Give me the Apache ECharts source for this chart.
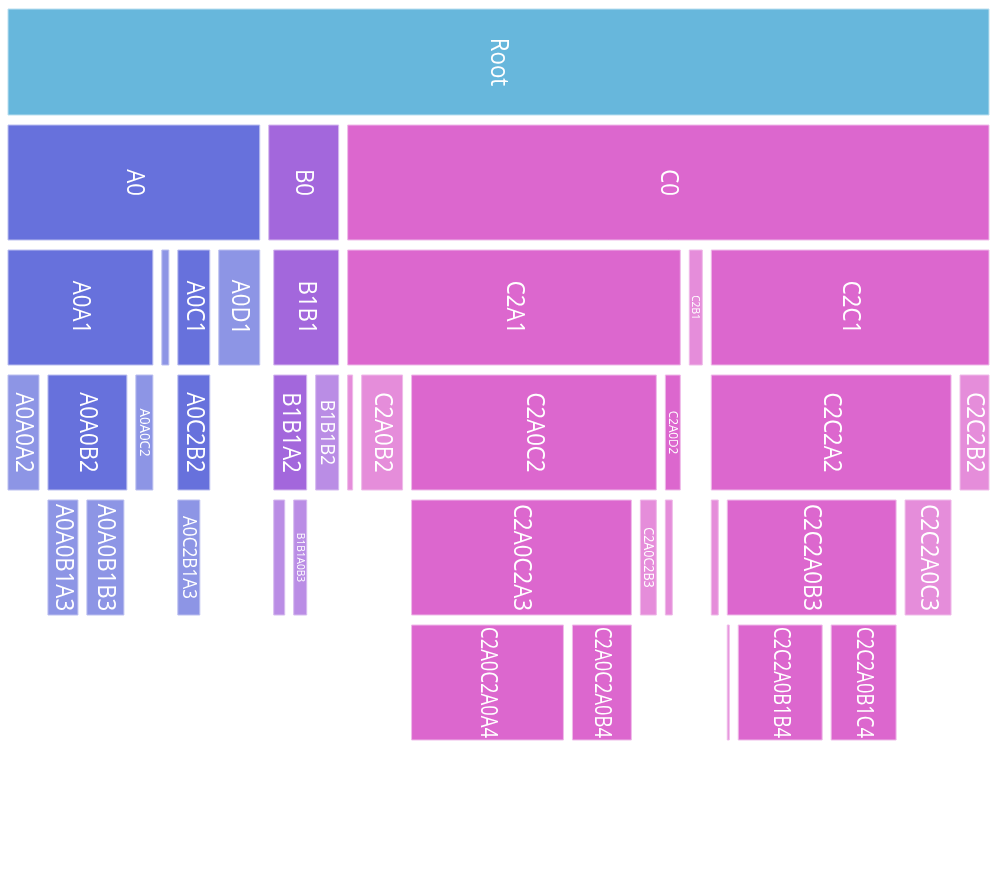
<!DOCTYPE html>
<html>
<head>
<meta charset="utf-8">
<script src="https://cdn.jsdelivr.net/npm/echarts@6/dist/echarts.min.js"></script>
<style>
html,body{margin:0;padding:0;background:#ffffff;}
#chart{width:998px;height:886px;}
</style>
</head>
<body>
<div id="chart"></div>
<script>
// ---- data: hierarchy as parallel arrays ----
const nodeNames = [
  'Root',
  'A0','B0','C0',
  'A0A1','A0B1','A0C1','A0D1','B1A1','B1B1','C2A1','C2B1','C2C1',
  'A0A0A2','A0A0B2','A0A0C2','A0C2B2','B1B1A2','B1B1B2','C2A0A2','C2A0B2','C2A0C2','C2A0D2','C2C2A2','C2C2B2',
  'A0A0B1A3','A0A0B1B3','A0C2B1A3','B1B1A0A3','B1B1A0B3','C2A0C2A3','C2A0C2B3','C2A0D1A3','C2C2A0A3','C2C2A0B3','C2C2A0C3',
  'C2A0C2A0A4','C2A0C2A0B4','C2C2A0B1A4','C2C2A0B1B4','C2C2A0B1C4',
  'C2A0C2A0A0A5','C2A0C2A0B0A5','C2C2A0B1B0A5','C2C2A0B1C0A5'
];
const nodeParents = [
  null,
  'Root','Root','Root',
  'A0','A0','A0','A0','B0','B0','C0','C0','C0',
  'A0A1','A0A1','A0A1','A0C1','B1B1','B1B1','C2A1','C2A1','C2A1','C2A1','C2C1','C2C1',
  'A0A0B2','A0A0B2','A0C2B2','B1B1A2','B1B1A2','C2A0C2','C2A0C2','C2A0D2','C2C2A2','C2C2A2','C2C2A2',
  'C2A0C2A3','C2A0C2A3','C2C2A0B3','C2C2A0B3','C2C2A0B3',
  'C2A0C2A0A4','C2A0C2A0B4','C2C2A0B1B4','C2C2A0B1C4'
];
const nodeValues = [
  991,
  261,79,651,
  154,16,41,50,5,74,342,22,287,
  40,88,26,41,42,32,14,50,254,24,249,38,
  39,46,31,20,22,229,25,16,16,178,55,
  161,68,11,93,74,
  5,5,5,5
];

// ---- styling constants ----
const rootColor = '#67b7dc';
const branchColors = ['#6771dc', '#a367dc', '#dc67ce'];
const GAP_X = 9, GAP_Y = 10, TOP_CLIP = 9;
const BASE_FONT = 25.5;
const TEXT_SX = 0.87;
const FONT_FAMILY = '"Open Sans", sans-serif';

function lighten(hex, t) {
  const n = parseInt(hex.slice(1), 16);
  const r = (n >> 16) & 255, g = (n >> 8) & 255, b = n & 255;
  const f = c => Math.round(c + (255 - c) * t);
  return 'rgb(' + f(r) + ',' + f(g) + ',' + f(b) + ')';
}

// ---- partition layout in value space ----
const byName = {};
const layout = [];
nodeNames.forEach((name, i) => {
  const parent = nodeParents[i] ? byName[nodeParents[i]] : null;
  const node = {
    name: name, value: nodeValues[i], parent: parent,
    depth: parent ? parent.depth + 1 : 0,
    x0: parent ? parent.cursor : 0,
    children: 0, branch: -1
  };
  node.x1 = node.x0 + node.value;
  node.cursor = node.x0;
  if (parent) {
    parent.cursor += node.value;
    parent.children++;
    node.branch = parent.depth === 0 ? parent.children - 1 : parent.branch;
  }
  byName[name] = node;
  layout.push(node);
});
const maxDepth = Math.max.apply(null, layout.map(n => n.depth));

const ctx = document.createElement('canvas').getContext('2d');
ctx.font = '100px ' + FONT_FAMILY;
function textLen100(t) { return ctx.measureText(t).width; }

const chart = echarts.init(document.getElementById('chart'), null, {renderer: 'canvas'});
chart.setOption({
  animation: false,
  backgroundColor: '#ffffff',
  grid: {left: 8, top: 0, width: 991, height: 875},
  xAxis: {type: 'value', min: 0, max: nodeValues[0], show: false},
  yAxis: {type: 'value', min: 0, max: maxDepth + 1, inverse: true, show: false},
  series: [{
    type: 'custom',
    clip: false,
    data: layout.map(n => [n.x0, n.x1, n.depth]),
    encode: {x: [0, 1], y: 2},
    renderItem: function (params, api) {
      const n = layout[params.dataIndex];
      const p0 = api.coord([api.value(0), api.value(2)]);
      const p1 = api.coord([api.value(1), api.value(2) + 1]);
      const x = p0[0];
      const w = p1[0] - p0[0] - GAP_X;
      const y = Math.max(p0[1], TOP_CLIP);
      const h = p1[1] - GAP_Y - y;
      if (w <= 0 || h <= 0) return {type: 'group', children: []};
      const base = n.branch < 0 ? rootColor : branchColors[n.branch];
      const fill = (n.children === 0 && n.depth > 0) ? lighten(base, 0.25) : base;
      const children = [{
        type: 'rect',
        shape: {x: x, y: y, width: w, height: h},
        style: {fill: fill, stroke: lighten(base, 0.55), lineWidth: 1}
      }];
      if (w >= 12) {
        const avail = h - 4;
        const len100 = textLen100(n.name);
        const fsFitH = avail * 100 / (len100 * TEXT_SX);
        const fs = Math.min(BASE_FONT, 0.9 * w, fsFitH * 1.1);
        const sx = Math.min(TEXT_SX, avail / (len100 * fs / 100));
        children.push({
          type: 'text',
          x: x + w / 2, y: y + h / 2,
          rotation: -Math.PI / 2,
          scaleX: sx, scaleY: 1,
          style: {
            text: n.name, x: 0, y: 0,
            align: 'center', verticalAlign: 'middle',
            fill: '#ffffff', fontSize: fs, fontFamily: FONT_FAMILY
          }
        });
      }
      return {type: 'group', children: children};
    }
  }]
});
</script>
</body>
</html>
